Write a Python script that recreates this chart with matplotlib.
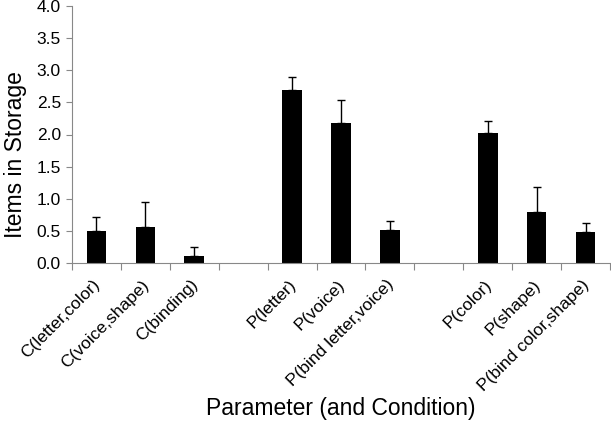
import matplotlib
matplotlib.use('Agg')
import matplotlib.pyplot as plt
import numpy as np

plt.rcParams['font.family'] = ['Liberation Sans', 'DejaVu Sans']

# data
labels = ['C(letter,color)', 'C(voice,shape)', 'C(binding)',
          'P(letter)', 'P(voice)', 'P(bind letter,voice)',
          'P(color)', 'P(shape)', 'P(bind color,shape)']
slots = [0, 1, 2, 4, 5, 6, 8, 9, 10]
means = [0.50, 0.565, 0.11, 2.69, 2.18, 0.51, 2.02, 0.79, 0.49]
errs = [0.22, 0.385, 0.135, 0.21, 0.36, 0.14, 0.19, 0.40, 0.13]

fig = plt.figure(figsize=(6.11, 4.24), dpi=100)
ax = fig.add_axes([72/611, 1-263/424, 538/611, 257/424])

ax.bar(slots, means, width=0.4, color='black', zorder=2)
ax.errorbar(slots, means, yerr=[np.zeros(len(errs)), errs], fmt='none',
            ecolor='black', elinewidth=1, capsize=3, capthick=1, zorder=3)

ax.set_xlim(-0.5, 10.5)
ax.set_ylim(0, 4.0)
yt = np.arange(0, 4.01, 0.5)
ax.set_yticks(yt)
ax.set_yticklabels([f'{v:.1f}' for v in yt], fontsize=12.5)

# category boundary ticks on x
ax.set_xticks(np.arange(-0.5, 10.6, 1.0))
ax.set_xticklabels([])
ax.tick_params(axis='x', direction='out', length=5, color='#888888')
ax.tick_params(axis='y', direction='out', length=4, color='#888888', pad=4)

for s, lab in zip(slots, labels):
    ax.text(s - 0.08, -0.22, lab, rotation=45, ha='right', va='top',
            rotation_mode='anchor', fontsize=12.5)

for sp in ['top', 'right']:
    ax.spines[sp].set_visible(False)
for sp in ['left', 'bottom']:
    ax.spines[sp].set_color('#888888')

fig.text(16/611, 1-155/424, 'Items in Storage', rotation=90, ha='center',
         va='center', fontsize=16.5)
fig.text(341/611, 1-409/424, 'Parameter (and Condition)', ha='center',
         va='center', fontsize=16.5)

fig.savefig('out.png', dpi=100)
